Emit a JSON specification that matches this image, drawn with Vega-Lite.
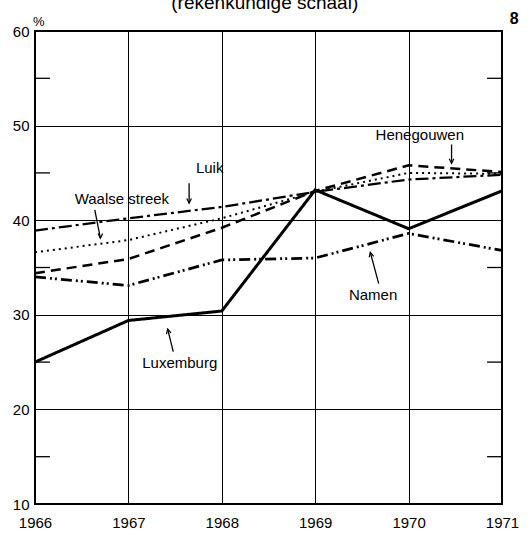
{
  "$schema": "https://vega.github.io/schema/vega-lite/v6.json",
  "width": 467,
  "height": 473,
  "autosize": "none",
  "padding": {"left": 35, "top": 31, "right": 29, "bottom": 32},
  "background": "white",
  "config": {
    "view": {"stroke": "black", "strokeWidth": 2},
    "font": "Liberation Sans",
    "axis": {"gridColor": "black", "gridOpacity": 1, "gridWidth": 1, "domain": false, "labelColor": "black"}
  },
  "datasets": {
    "series": [
      {"region": "Luxemburg", "year": 1966, "pct": 25.0},
      {"region": "Luxemburg", "year": 1967, "pct": 29.4},
      {"region": "Luxemburg", "year": 1968, "pct": 30.4},
      {"region": "Luxemburg", "year": 1969, "pct": 43.2},
      {"region": "Luxemburg", "year": 1970, "pct": 39.1},
      {"region": "Luxemburg", "year": 1971, "pct": 43.1},
      {"region": "Namen", "year": 1966, "pct": 34.0},
      {"region": "Namen", "year": 1967, "pct": 33.1},
      {"region": "Namen", "year": 1968, "pct": 35.8},
      {"region": "Namen", "year": 1969, "pct": 36.0},
      {"region": "Namen", "year": 1970, "pct": 38.6},
      {"region": "Namen", "year": 1971, "pct": 36.8},
      {"region": "Henegouwen", "year": 1966, "pct": 34.4},
      {"region": "Henegouwen", "year": 1967, "pct": 35.9},
      {"region": "Henegouwen", "year": 1968, "pct": 39.2},
      {"region": "Henegouwen", "year": 1969, "pct": 43.1},
      {"region": "Henegouwen", "year": 1970, "pct": 45.8},
      {"region": "Henegouwen", "year": 1971, "pct": 45.1},
      {"region": "Luik", "year": 1966, "pct": 38.9},
      {"region": "Luik", "year": 1967, "pct": 40.2},
      {"region": "Luik", "year": 1968, "pct": 41.4},
      {"region": "Luik", "year": 1969, "pct": 43.0},
      {"region": "Luik", "year": 1970, "pct": 44.3},
      {"region": "Luik", "year": 1971, "pct": 44.8},
      {"region": "Waalse streek", "year": 1966, "pct": 36.6},
      {"region": "Waalse streek", "year": 1967, "pct": 37.9},
      {"region": "Waalse streek", "year": 1968, "pct": 40.2},
      {"region": "Waalse streek", "year": 1969, "pct": 43.0},
      {"region": "Waalse streek", "year": 1970, "pct": 45.0},
      {"region": "Waalse streek", "year": 1971, "pct": 44.9}
    ],
    "labels": [
      {"label": "Luik", "year": 1967.87, "pct": 45.5},
      {"label": "Waalse streek", "year": 1966.93, "pct": 42.2},
      {"label": "Henegouwen", "year": 1970.12, "pct": 49.0},
      {"label": "Namen", "year": 1969.62, "pct": 32.1},
      {"label": "Luxemburg", "year": 1967.55, "pct": 24.9}
    ],
    "arrows": [
      {"label": "Luik", "dir": "down", "year": 1967.65, "pct": 43.9, "year2": 1967.65, "pct2": 41.8},
      {"label": "Waalse streek", "dir": "down", "year": 1966.64, "pct": 41.1, "year2": 1966.70, "pct2": 38.1},
      {"label": "Henegouwen", "dir": "down", "year": 1970.46, "pct": 48.0, "year2": 1970.46, "pct2": 46.0},
      {"label": "Namen", "dir": "up", "year": 1969.68, "pct": 33.3, "year2": 1969.59, "pct2": 36.6},
      {"label": "Luxemburg", "dir": "up", "year": 1967.48, "pct": 26.1, "year2": 1967.42, "pct2": 28.5},
      {"label": "t15L", "dir": "tick", "year": 1966, "pct": 15, "year2": 1966.16, "pct2": 15},
      {"label": "t25L", "dir": "tick", "year": 1966, "pct": 25, "year2": 1966.16, "pct2": 25},
      {"label": "t35L", "dir": "tick", "year": 1966, "pct": 35, "year2": 1966.16, "pct2": 35},
      {"label": "t45L", "dir": "tick", "year": 1966, "pct": 45, "year2": 1966.16, "pct2": 45},
      {"label": "t55L", "dir": "tick", "year": 1966, "pct": 55, "year2": 1966.16, "pct2": 55},
      {"label": "t15R", "dir": "tick", "year": 1970.84, "pct": 15, "year2": 1971, "pct2": 15},
      {"label": "t25R", "dir": "tick", "year": 1970.84, "pct": 25, "year2": 1971, "pct2": 25},
      {"label": "t35R", "dir": "tick", "year": 1970.84, "pct": 35, "year2": 1971, "pct2": 35},
      {"label": "t45R", "dir": "tick", "year": 1970.84, "pct": 45, "year2": 1971, "pct2": 45},
      {"label": "t55R", "dir": "tick", "year": 1970.84, "pct": 55, "year2": 1971, "pct2": 55}
    ],
    "notes": [
      {"text": "(rekenkundige schaal)", "year": 1968.46, "pct": 62.3}
    ],
    "pagenum": [
      {"text": "8", "year": 1971.13, "pct": 60.74}
    ],
    "unit": [
      {"text": "%", "year": 1966, "pct": 61.0}
    ]
  },
  "layer": [
    {
      "data": {"name": "series"},
      "mark": {"type": "line", "clip": false},
      "encoding": {
        "x": {
          "field": "year", "type": "quantitative",
          "scale": {"domain": [1966, 1971], "nice": false, "zero": false},
          "axis": {"title": null, "values": [1966, 1967, 1968, 1969, 1970, 1971], "format": "d", "grid": true, "ticks": false, "labelFontSize": 15, "labelPadding": 11, "labelFlush": false}
        },
        "y": {
          "field": "pct", "type": "quantitative",
          "scale": {"domain": [10, 60], "nice": false, "zero": false},
          "axis": {"title": null, "orient": "left", "values": [10, 20, 30, 40, 50, 60], "grid": true, "ticks": false, "labelFontSize": 15, "labelPadding": 6, "labelFlush": false}
        },
        "strokeDash": {
          "field": "region", "type": "nominal", "legend": null,
          "scale": {
            "domain": ["Luxemburg", "Namen", "Henegouwen", "Luik", "Waalse streek"],
            "range": [[1, 0], [11, 4, 2, 3, 2, 4], [10, 6], [13, 4, 3, 4], [2, 4]]
          }
        },
        "strokeWidth": {
          "field": "region", "type": "nominal", "legend": null,
          "scale": {
            "domain": ["Luxemburg", "Namen", "Henegouwen", "Luik", "Waalse streek"],
            "range": [3, 2, 2.2, 2.2, 2.2]
          }
        },
        "color": {"value": "black"}
      }
    },
    {
      "data": {"name": "arrows"},
      "mark": {"type": "rule", "color": "black", "strokeWidth": 1.3},
      "encoding": {
        "x": {"field": "year", "type": "quantitative"},
        "y": {"field": "pct", "type": "quantitative"},
        "x2": {"field": "year2"},
        "y2": {"field": "pct2"}
      }
    },
    {
      "data": {"name": "arrows"},
      "transform": [{"filter": "datum.dir == 'down'"}],
      "mark": {"type": "point", "shape": "M-0.6,-1.2L0,0L0.6,-1.2", "filled": false, "size": 60, "color": "black", "strokeWidth": 1.2, "opacity": 1},
      "encoding": {
        "x": {"field": "year2", "type": "quantitative"},
        "y": {"field": "pct2", "type": "quantitative"}
      }
    },
    {
      "data": {"name": "arrows"},
      "transform": [{"filter": "datum.dir == 'up'"}],
      "mark": {"type": "point", "shape": "M-0.6,-1.2L0,0L0.6,-1.2", "angle": 166, "filled": false, "size": 60, "color": "black", "strokeWidth": 1.2, "opacity": 1},
      "encoding": {
        "x": {"field": "year2", "type": "quantitative"},
        "y": {"field": "pct2", "type": "quantitative"}
      }
    },
    {
      "data": {"name": "labels"},
      "mark": {"type": "text", "fontSize": 15, "color": "black", "align": "center", "baseline": "middle"},
      "encoding": {
        "x": {"field": "year", "type": "quantitative"},
        "y": {"field": "pct", "type": "quantitative"},
        "text": {"field": "label"}
      }
    },
    {
      "data": {"name": "notes"},
      "mark": {"type": "text", "fontSize": 19, "color": "black", "align": "center", "baseline": "alphabetic"},
      "encoding": {
        "x": {"field": "year", "type": "quantitative"},
        "y": {"field": "pct", "type": "quantitative"},
        "text": {"field": "text"}
      }
    },
    {
      "data": {"name": "pagenum"},
      "mark": {"type": "text", "fontSize": 16, "fontWeight": "bold", "color": "black", "align": "center", "baseline": "alphabetic"},
      "encoding": {
        "x": {"field": "year", "type": "quantitative"},
        "y": {"field": "pct", "type": "quantitative"},
        "text": {"field": "text"}
      }
    },
    {
      "data": {"name": "unit"},
      "mark": {"type": "text", "fontSize": 13, "color": "black", "align": "left", "baseline": "middle", "dx": -2},
      "encoding": {
        "x": {"field": "year", "type": "quantitative"},
        "y": {"field": "pct", "type": "quantitative"},
        "text": {"field": "text"}
      }
    }
  ]
}
